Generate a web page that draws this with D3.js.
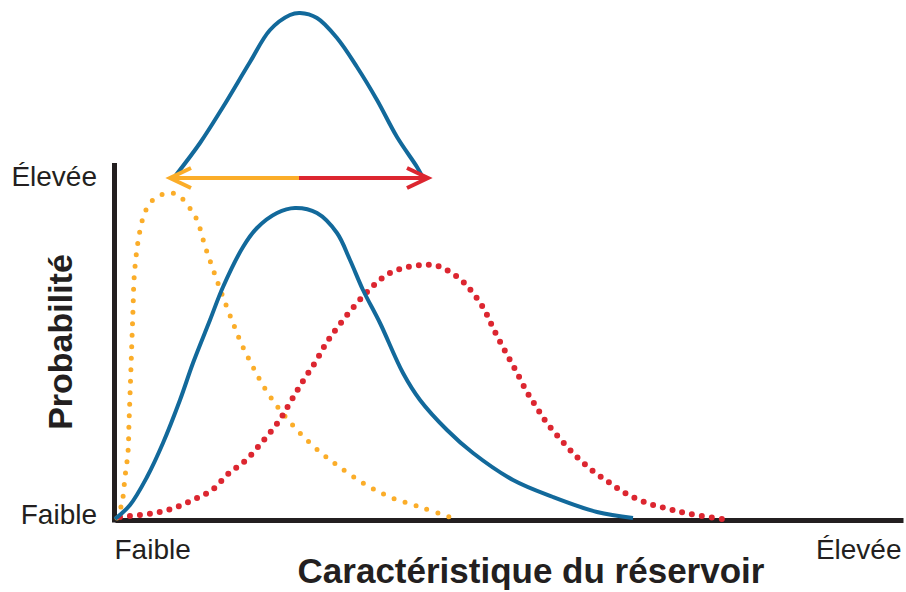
<!DOCTYPE html>
<html>
<head>
<meta charset="utf-8">
<script src="https://cdn.jsdelivr.net/npm/d3@7"></script>
<style>
  body { margin: 0; background: #fff; }
  svg text { font-family: "Liberation Sans", Arial, sans-serif; fill: #231f20; }
</style>
</head>
<body>
<div id="chart"></div>
<script>
// axis labels
const xTickValues = [0, 788];
const xTickLabels = ["Faible", "Élevée"];
const yTickValues = [5, 343];
const yTickLabels = ["Faible", "Élevée"];
const xTitle = "Caractéristique du réservoir";
const yTitle = "Probabilité";

// curves: [characteristic, probability]
const baseCurve = [
  [0, 1], [15, 15], [32, 43], [48, 77], [65, 120], [78, 157], [95, 200],
  [108, 233], [128, 273], [142, 292], [162, 307], [180, 312], [202, 307],
  [222, 287], [235, 260], [248, 230], [265, 197], [288, 147], [305, 120],
  [332, 90], [358, 67], [398, 40], [438, 23], [482, 8], [518, 2]
];
const lowCurve = [
  [2, 2], [7, 17], [10, 43], [13, 68], [14, 97], [15, 125], [16, 153],
  [17, 182], [18, 210], [19, 240], [21, 263], [23, 278], [28, 302],
  [35, 317], [44, 324], [54, 327], [63, 325], [74, 313], [82, 300],
  [90, 274], [99, 248], [108, 223], [118, 197], [127, 175], [138, 153],
  [149, 133], [165, 110], [185, 87], [205, 68], [222, 55], [248, 37],
  [275, 23], [308, 12], [340, 1]
];
const highCurve = [
  [5, 3], [25, 5], [45, 8], [62, 13], [80, 21], [97, 30], [113, 46],
  [131, 60], [148, 79], [164, 99], [176, 119], [188, 139], [201, 159],
  [212, 178], [225, 196], [242, 217], [257, 233], [273, 246], [289, 252],
  [307, 255], [323, 254], [345, 241], [358, 227], [369, 211], [379, 190],
  [390, 169], [401, 149], [412, 128], [422, 112], [432, 97], [447, 79],
  [462, 63], [478, 49], [495, 37], [510, 27], [532, 17], [554, 11],
  [575, 6], [607, 1]
];
// shifted bell above the chart
const topCurve = [
  [61, 345], [85, 377], [108, 413], [135, 458], [155, 490], [175, 505],
  [185, 507], [202, 502], [222, 482], [242, 453], [262, 420], [282, 383],
  [302, 353], [307, 344]
];
// double arrow: y level, left tip, middle, right tip
const arrowLevel = 342;
const arrowStops = [55, 184, 313];

const width = 906, height = 592;
const blue = "#12699b", orange = "#fbad29", red = "#dc2630", ink = "#231f20";

const svg = d3.select("#chart").append("svg")
  .attr("width", width)
  .attr("height", height);

const x = d3.scaleLinear().domain([0, 788]).range([115, 903]);
const y = d3.scaleLinear().domain([0, 357]).range([520, 163]);

const line = d3.line()
  .x(d => x(d[0]))
  .y(d => y(d[1]))
  .curve(d3.curveCatmullRom.alpha(0.5));

// axes
const yAxis = svg.append("g")
  .attr("transform", `translate(${x(0) - 1},0)`)
  .call(d3.axisLeft(y).tickValues(yTickValues)
    .tickFormat((d, i) => yTickLabels[i]).tickSize(0).tickPadding(17));

const xAxis = svg.append("g")
  .attr("transform", `translate(0,${y(0)})`)
  .call(d3.axisBottom(x).tickValues(xTickValues)
    .tickFormat((d, i) => xTickLabels[i]).tickSize(0).tickPadding(19));

svg.selectAll(".domain")
  .attr("stroke", ink)
  .attr("stroke-width", 5);
yAxis.select(".domain").attr("d", `M0.5,${y(0) + 2.5}V${y(357)}`);

svg.selectAll(".tick text")
  .style("font-size", "28px")
  .attr("fill", ink);
xAxis.selectAll(".tick text")
  .attr("text-anchor", (d, i) => i === 0 ? "start" : "end")
  .attr("dx", (d, i) => i === 0 ? -1 : -2);

// curves
svg.append("path")
  .datum(lowCurve)
  .attr("d", line)
  .attr("fill", "none")
  .attr("stroke", orange)
  .attr("stroke-width", 5)
  .attr("stroke-linecap", "round")
  .attr("stroke-dasharray", "0 11.5");

svg.append("path")
  .datum(highCurve)
  .attr("d", line)
  .attr("fill", "none")
  .attr("stroke", red)
  .attr("stroke-width", 6)
  .attr("stroke-linecap", "round")
  .attr("stroke-dasharray", "0 10");

svg.selectAll("path.solid")
  .data([baseCurve, topCurve])
  .enter()
  .append("path")
  .attr("class", "solid")
  .attr("d", line)
  .attr("fill", "none")
  .attr("stroke", blue)
  .attr("stroke-width", 4);

// arrow
const ay = y(arrowLevel);
const [aL, aM, aR] = arrowStops.map(x);
const head = 21, spread = 10;

svg.append("path")
  .attr("d", `M${aM},${ay}H${aL + 2}M${aL + head},${ay - spread}L${aL},${ay}L${aL + head},${ay + spread}`)
  .attr("fill", "none")
  .attr("stroke", orange)
  .attr("stroke-width", 4);

svg.append("path")
  .attr("d", `M${aM},${ay}H${aR - 2}M${aR - head},${ay - spread}L${aR},${ay}L${aR - head},${ay + spread}`)
  .attr("fill", "none")
  .attr("stroke", red)
  .attr("stroke-width", 4);

// titles
svg.append("text")
  .attr("x", 531)
  .attr("y", 583)
  .attr("text-anchor", "middle")
  .style("font-size", "35px")
  .style("font-weight", "bold")
  .text(xTitle);

svg.append("text")
  .attr("transform", "translate(72,342) rotate(-90)")
  .attr("text-anchor", "middle")
  .style("font-size", "34px")
  .style("font-weight", "bold")
  .text(yTitle);
</script>
</body>
</html>
